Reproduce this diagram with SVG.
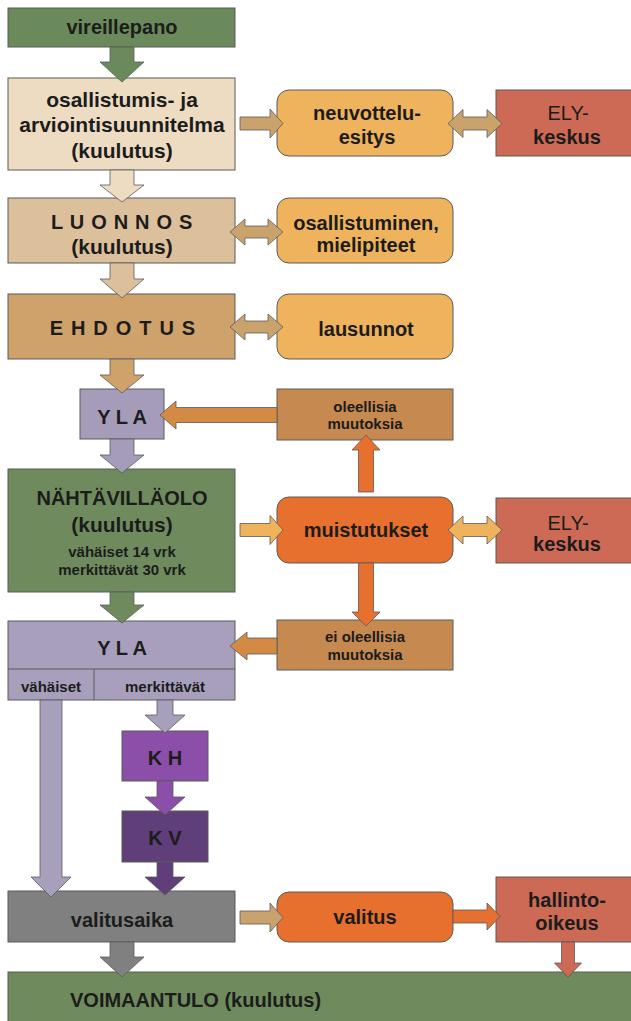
<svg xmlns="http://www.w3.org/2000/svg" width="631" height="1021" viewBox="0 0 631 1021">
<style>
.box{stroke:#5a5a5a;stroke-width:1}
.ar{stroke:#5a5a5a;stroke-width:0.8;stroke-linejoin:miter}
text{font-family:"Liberation Sans",Arial,sans-serif;font-weight:bold;fill:#1c1c1c;text-anchor:middle}
.t20{font-size:20px}
.t21{font-size:21px}
.t15{font-size:15px}
.reg{font-weight:normal}
</style>
<rect width="631" height="1021" fill="#ffffff"/>
<g id="vireillepano"><rect class="box" x="8" y="8" width="227" height="39" fill="#6b8a5b"/><text class="t20" x="122" y="34">vireillepano</text></g>
<g id="osallistumis"><rect class="box" x="8" y="78" width="227" height="92" fill="#eddcc2"/><text class="t21" x="122" y="107">osallistumis- ja</text><text class="t21" x="122" y="132">arviointisuunnitelma</text><text class="t21" x="122" y="158">(kuulutus)</text></g>
<g id="luonnos"><rect class="box" x="8" y="198" width="227" height="65" fill="#dcc09b"/><text class="t20" x="122" y="229" letter-spacing="0.7">L U O N N O S</text><text class="t21" x="122" y="254">(kuulutus)</text></g>
<g id="ehdotus"><rect class="box" x="8" y="294" width="227" height="65" fill="#cfa26c"/><text class="t20" x="123" y="335" letter-spacing="1.2">E H D O T U S</text></g>
<g id="yla1"><rect class="box" x="80" y="389" width="84" height="50" fill="#a59cb9"/><text class="t20" x="122" y="424">Y L A</text></g>
<g id="nahtavillaolo"><rect class="box" x="8" y="469" width="227" height="123" fill="#6f8b5e"/><text class="t20" x="122" y="505">NÄHTÄVILLÄOLO</text><text class="t21" x="122" y="532">(kuulutus)</text><text class="t15" x="122" y="557">vähäiset 14 vrk</text><text class="t15" x="122" y="575">merkittävät 30 vrk</text></g>
<g id="yla2"><rect class="box" x="8" y="621" width="227" height="79" fill="#a89fbc"/><line class="box" x1="8" y1="669" x2="235" y2="669"/><line class="box" x1="94" y1="669" x2="94" y2="700"/><text class="t20" x="122" y="655">Y L A</text><text class="t15" x="51" y="692">vähäiset</text><text class="t15" x="165" y="692">merkittävät</text></g>
<g id="kh"><rect class="box" x="122" y="731" width="86" height="50" fill="#8b4faa"/><text class="t20" x="165" y="765">K H</text></g>
<g id="kv"><rect class="box" x="122" y="811" width="86" height="51" fill="#5f3e7a"/><text class="t20" x="165" y="845">K V</text></g>
<g id="valitusaika"><rect class="box" x="8" y="891" width="227" height="51" fill="#808080"/><text class="t20" x="122" y="927">valitusaika</text></g>
<g id="voimaantulo"><rect class="box" x="8" y="972" width="630" height="60" fill="#6f8b5e"/><text class="t20" x="70" y="1007" text-anchor="start" style="text-anchor:start">VOIMAANTULO (kuulutus)</text></g>
<g id="neuvotteluesitys"><rect class="box" x="277" y="90" width="176" height="66" rx="12" fill="#f0b35d"/><text class="t20" x="367" y="120">neuvottelu-</text><text class="t20" x="367" y="144">esitys</text></g>
<g id="ely1"><rect class="box" x="496" y="90" width="140" height="66" fill="#cc6a55"/><text class="t20 reg" x="568" y="120">ELY-</text><text class="t20" x="567" y="144">keskus</text></g>
<g id="osallistuminen"><rect class="box" x="277" y="198" width="176" height="65" rx="12" fill="#f0b35d"/><text class="t20" x="366" y="230">osallistuminen,</text><text class="t20" x="366" y="252">mielipiteet</text></g>
<g id="lausunnot"><rect class="box" x="277" y="294" width="176" height="65" rx="12" fill="#f0b35d"/><text class="t20" x="366" y="336">lausunnot</text></g>
<g id="oleellisia"><rect class="box" x="277" y="389" width="176" height="51" fill="#c68a50"/><text class="t15" x="365" y="412">oleellisia</text><text class="t15" x="365" y="429">muutoksia</text></g>
<g id="muistutukset"><rect class="box" x="277" y="497" width="176" height="66" rx="12" fill="#e8702e"/><text class="t20" x="366" y="537">muistutukset</text></g>
<g id="ely2"><rect class="box" x="496" y="498" width="140" height="65" fill="#cc6a55"/><text class="t20 reg" x="568" y="530">ELY-</text><text class="t20" x="567" y="551">keskus</text></g>
<g id="eioleellisia"><rect class="box" x="277" y="620" width="176" height="50" fill="#c68a50"/><text class="t15" x="365" y="642">ei oleellisia</text><text class="t15" x="365" y="660">muutoksia</text></g>
<g id="valitus"><rect class="box" x="277" y="892" width="176" height="50" rx="12" fill="#e8702e"/><text class="t20" x="365" y="924">valitus</text></g>
<g id="hallinto-oikeus"><rect class="box" x="496" y="877" width="140" height="65" fill="#cc6a55"/><text class="t20" x="567" y="907">hallinto-</text><text class="t20" x="567" y="930">oikeus</text></g>
<g id="connectors">
<polygon class="ar" fill="#6b8a5b" points="110,47 134,47 134,62 144,62 122,82 100,62 110,62"/>
<polygon class="ar" fill="#eddcc2" points="110,170 134,170 134,185 144,185 122,202 100,185 110,185"/>
<polygon class="ar" fill="#dcc09b" points="110,263 134,263 134,279 144,279 122,298 100,279 110,279"/>
<polygon class="ar" fill="#cfa26c" points="110,359 134,359 134,375 144,375 122,393 100,375 110,375"/>
<polygon class="ar" fill="#a59cb9" points="110,439 134,439 134,455 144,455 122,473 100,455 110,455"/>
<polygon class="ar" fill="#6f8b5e" points="110,592 134,592 134,605 144,605 122,623 100,605 110,605"/>
<polygon class="ar" fill="#a89fbc" points="157,700 173,700 173,715 185,715 165,733 145,715 157,715"/>
<polygon class="ar" fill="#8b4faa" points="157,781 173,781 173,797 185,797 165,815 145,797 157,797"/>
<polygon class="ar" fill="#5f3e7a" points="157,862 173,862 173,877 185,877 165,895 145,877 157,877"/>
<polygon class="ar" fill="#a89fbc" points="40,700 62,700 62,877 71,877 51,897 31,877 40,877"/>
<polygon class="ar" fill="#808080" points="110,942 134,942 134,957 144,957 122,977 100,957 110,957"/>
<polygon class="ar" fill="#cc6a55" points="561.5,942 574.5,942 574.5,963 581.5,963 568,977 554.5,963 561.5,963"/>
<polygon class="ar" fill="#c9a26c" points="240,117 270,117 270,109 283,123.5 270,138 270,130 240,130"/>
<polygon class="ar" fill="#c9a26c" points="448,123.5 463,109.5 463,117 487,117 487,109.5 502,123.5 487,137.5 487,130 463,130 463,137.5"/>
<polygon class="ar" fill="#c9a26c" points="230,232 245,219 245,226 268,226 268,219 283,232 268,245 268,238 245,238 245,245"/>
<polygon class="ar" fill="#c9a26c" points="230,327 245,314 245,321 268,321 268,314 283,327 268,340 268,333 245,333 245,340"/>
<polygon class="ar" fill="#d38a45" points="277,407.5 176,407.5 176,401 160,415 176,429 176,422.5 277,422.5"/>
<polygon class="ar" fill="#f0b35d" points="240,523.5 270,523.5 270,515.5 283,530 270,544.5 270,536.5 240,536.5"/>
<polygon class="ar" fill="#f0b35d" points="448,530 463,516 463,523.5 487,523.5 487,516 502,530 487,544 487,536.5 463,536.5 463,544"/>
<polygon class="ar" fill="#e8702e" points="358.5,492 373.5,492 373.5,450 380,450 366,435 352,450 358.5,450"/>
<polygon class="ar" fill="#e8702e" points="358.5,563 373.5,563 373.5,612 380,612 366,626 352,612 358.5,612"/>
<polygon class="ar" fill="#d38a45" points="277,638 247,638 247,632 230,646 247,660 247,654 277,654"/>
<polygon class="ar" fill="#c9a26c" points="240,911 270,911 270,903 283,917.5 270,932 270,924 240,924"/>
<polygon class="ar" fill="#e8702e" points="453,910 487,910 487,903 500,916.5 487,930 487,923 453,923"/>
</g>
</svg>
